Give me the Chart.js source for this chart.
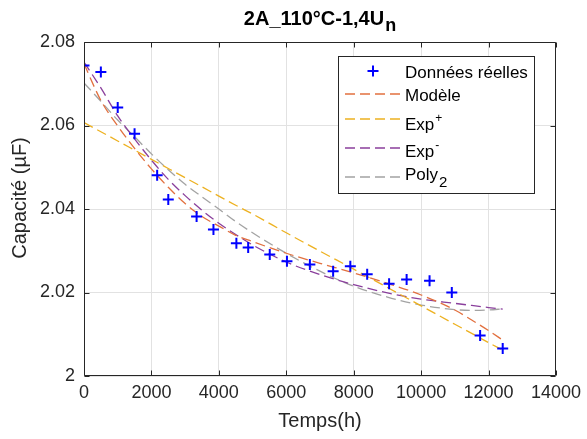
<!DOCTYPE html>
<html>
<head>
<meta charset="utf-8">
<script src="https://cdn.jsdelivr.net/npm/chart.js@4/dist/chart.umd.min.js"></script>
<style>
html,body{margin:0;padding:0;background:#ffffff;}
canvas{display:block;}
</style>
</head>
<body>
<canvas id="c" width="587" height="439"></canvas>
<script>
// ---- Text ----
const chartTitle = '2A_110°C-1,4U';
const chartTitleSub = 'n';
const xAxisTitle = 'Temps(h)';
const yAxisTitle = 'Capacité (µF)';

// ---- Ticks ----
const xTicks = [0, 2000, 4000, 6000, 8000, 10000, 12000, 14000];
const yTicks = [2, 2.02, 2.04, 2.06, 2.08];

// ---- Legend labels (base text, superscript, subscript) ----
const legendBase = ['Données réelles', 'Modèle', 'Exp', 'Exp', 'Poly'];
const legendSup  = ['', '', '+', '-', ''];
const legendSub  = ['', '', '', '', '2'];

// ---- Measured data ----
const measTimes  = [0, 500, 1000, 1500, 2170, 2500, 3340, 3840, 4520, 4870, 5510,
                    6020, 6700, 7390, 7900, 8400, 9050, 9570, 10250, 10910, 11750, 12420];
const measValues = [2.0744, 2.0728, 2.0643, 2.0580, 2.0481, 2.0423, 2.0382, 2.0351, 2.0318, 2.0308, 2.0291,
                    2.0275, 2.0267, 2.0251, 2.0263, 2.0244, 2.0221, 2.0231, 2.0228, 2.0200, 2.0097, 2.0066];

// ---- Fitted curves (sampled) ----
const fitTimes = [0, 500, 1000, 1500, 2000, 2500, 3000, 3500, 4000, 4500, 5000,
                  6000, 7000, 8000, 9000, 10000, 11000, 11500, 12000, 12420];
const modele   = [2.0748, 2.0660, 2.0599, 2.0545, 2.0496, 2.0452, 2.0413, 2.0382, 2.0359, 2.0337, 2.0322,
                  2.0294, 2.0270, 2.0247, 2.0222, 2.0194, 2.0158, 2.0134, 2.0109, 2.0086];
const expPlus  = [2.0607, 2.0585, 2.0563, 2.0541, 2.0519, 2.0497, 2.0475, 2.0453, 2.0431, 2.0409, 2.0388,
                  2.0343, 2.0299, 2.0256, 2.0212, 2.0168, 2.0124, 2.0102, 2.0080, 2.0062];
const expMinus = [2.0752, 2.0690, 2.0623, 2.0568, 2.0517, 2.0471, 2.0432, 2.0397, 2.0366, 2.0339, 2.0314,
                  2.0273, 2.0243, 2.0219, 2.0199, 2.0184, 2.0174, 2.0169, 2.0164, 2.0160];
const poly2    = [2.0702, 2.0658, 2.0613, 2.0573, 2.0532, 2.0494, 2.0459, 2.0429, 2.0400, 2.0370, 2.0343,
                  2.0294, 2.0251, 2.0215, 2.0189, 2.0170, 2.0159, 2.0157, 2.0158, 2.0161];

const FONT = "'Liberation Sans', Arial, Helvetica, sans-serif";
const TXT = '#262626';

const colMeas = '#0000ff';
const colModele = '#E2703F';
const colExpP = '#EDB120';
const colExpM = '#8A3F9C';
const colPoly = '#A3A3A3';
const DASH = [10, 5];

function pts(xs, ys) { return xs.map((x, i) => ({x: x, y: ys[i]})); }

Chart.defaults.font.family = FONT;
Chart.defaults.color = TXT;

const lineDs = (label, values, color, order) => ({
  label: label,
  data: pts(fitTimes, values),
  borderColor: color,
  backgroundColor: color,
  borderWidth: 1.3,
  borderDash: DASH,
  pointRadius: 0,
  fill: false,
  cubicInterpolationMode: 'monotone',
  order: order
});

const datasets = [
  {
    label: 'Données réelles',
    data: pts(measTimes, measValues),
    showLine: false,
    pointStyle: 'cross',
    pointRadius: 5.5,
    pointBorderWidth: 2,
    borderColor: colMeas,
    backgroundColor: colMeas,
    order: 0
  },
  lineDs('Modèle', modele, colModele, 1),
  lineDs('Exp+', expPlus, colExpP, 2),
  lineDs('Exp-', expMinus, colExpM, 3),
  lineDs('Poly2', poly2, colPoly, 4)
];

const decorPlugin = {
  id: 'decor',
  beforeDraw(chart) {
    const ctx = chart.ctx;
    ctx.save();
    ctx.fillStyle = '#ffffff';
    ctx.fillRect(0, 0, chart.width, chart.height);
    ctx.restore();
  },
  afterDraw(chart) {
    const ctx = chart.ctx;
    const ca = chart.chartArea;
    const xs = chart.scales.x, ys = chart.scales.y;
    const L = Math.round(ca.left) + 0.5, R = Math.round(ca.right) - 0.5;
    const T = Math.round(ca.top) + 0.5, B = Math.round(ca.bottom) - 0.5;
    ctx.save();
    // box
    ctx.strokeStyle = TXT;
    ctx.lineWidth = 1;
    ctx.beginPath();
    ctx.rect(L, T, R - L, B - T);
    ctx.stroke();
    // inner ticks
    const tl = 5;
    ctx.beginPath();
    xTicks.forEach(v => {
      const px = Math.round(xs.getPixelForValue(v)) + 0.5;
      ctx.moveTo(px, B); ctx.lineTo(px, B - tl);
      ctx.moveTo(px, T); ctx.lineTo(px, T + tl);
    });
    yTicks.forEach(v => {
      const py = Math.round(ys.getPixelForValue(v)) + 0.5;
      ctx.moveTo(L, py); ctx.lineTo(L + tl, py);
      ctx.moveTo(R, py); ctx.lineTo(R - tl, py);
    });
    ctx.stroke();

    // title
    ctx.fillStyle = '#000000';
    ctx.textBaseline = 'alphabetic';
    ctx.textAlign = 'left';
    ctx.font = 'bold 20px ' + FONT;
    const w1 = ctx.measureText(chartTitle).width;
    ctx.font = 'bold 18px ' + FONT;
    const w2 = ctx.measureText(chartTitleSub).width;
    const cx = (ca.left + ca.right) / 2;
    const tx = cx - (w1 + w2 + 1) / 2;
    ctx.font = 'bold 20px ' + FONT;
    ctx.fillText(chartTitle, tx, 25);
    ctx.font = 'bold 18px ' + FONT;
    ctx.fillText(chartTitleSub, tx + w1 + 1, 31);

    // y axis title
    ctx.save();
    ctx.translate(20, 198);
    ctx.rotate(-Math.PI / 2);
    ctx.font = '20px ' + FONT;
    ctx.fillStyle = TXT;
    ctx.textAlign = 'center';
    ctx.textBaseline = 'middle';
    ctx.fillText(yAxisTitle, 0, 0);
    ctx.restore();

    // legend
    const bx = 338.5, by = 56.5, bw = 196, bh = 137;
    ctx.fillStyle = '#ffffff';
    ctx.fillRect(bx, by, bw, bh);
    ctx.strokeStyle = TXT;
    ctx.lineWidth = 1;
    ctx.strokeRect(bx, by, bw, bh);
    const rowY = [71, 94, 119, 148, 177];
    const baseY = [78, 101, 130, 157, 180];
    const lx0 = 345, lx1 = 400, textX = 405;
    chart.data.datasets.forEach((ds, i) => {
      const y = rowY[i];
      if (i === 0) {
        ctx.strokeStyle = ds.borderColor;
        ctx.lineWidth = 2;
        ctx.beginPath();
        ctx.moveTo(373 - 5.5, y); ctx.lineTo(373 + 5.5, y);
        ctx.moveTo(373, y - 5.5); ctx.lineTo(373, y + 5.5);
        ctx.stroke();
      } else {
        ctx.strokeStyle = ds.borderColor;
        ctx.lineWidth = 1.3;
        ctx.setLineDash(DASH);
        ctx.beginPath();
        ctx.moveTo(lx0, y); ctx.lineTo(lx1, y);
        ctx.stroke();
        ctx.setLineDash([]);
      }
      ctx.fillStyle = '#000000';
      ctx.textAlign = 'left';
      ctx.textBaseline = 'alphabetic';
      ctx.font = '17px ' + FONT;
      ctx.fillText(legendBase[i], textX, baseY[i]);
      const wb = ctx.measureText(legendBase[i]).width;
      if (legendSup[i]) {
        ctx.font = '12px ' + FONT;
        ctx.fillText(legendSup[i], textX + wb + 1, baseY[i] - 8);
      }
      if (legendSub[i]) {
        ctx.font = '15px ' + FONT;
        ctx.fillText(legendSub[i], textX + wb + 1, baseY[i] + 7);
      }
    });
    ctx.restore();
  }
};

new Chart(document.getElementById('c'), {
  type: 'line',
  data: { datasets: datasets },
  options: {
    responsive: false,
    animation: false,
    events: [],
    layout: { padding: { top: 42, right: 31, left: 0, bottom: 0 } },
    plugins: {
      legend: { display: false },
      title: { display: false },
      tooltip: { enabled: false }
    },
    scales: {
      x: {
        type: 'linear',
        position: 'bottom',
        min: 0,
        max: 14000,
        afterBuildTicks: s => { s.ticks = xTicks.map(v => ({value: v})); },
        afterFit: s => { s.height = 63; },
        ticks: {
          font: { size: 18 },
          color: TXT,
          padding: 6,
          maxRotation: 0,
          autoSkip: false,
          callback: v => String(v)
        },
        grid: { color: '#e2e2e2', lineWidth: 1, drawTicks: false },
        border: { display: false },
        title: {
          display: true,
          text: xAxisTitle,
          font: { size: 20 },
          color: TXT,
          padding: { top: 0, bottom: 6 }
        }
      },
      y: {
        type: 'linear',
        min: 2,
        max: 2.08,
        afterBuildTicks: s => { s.ticks = yTicks.map(v => ({value: v})); },
        afterFit: s => { s.width = 84; },
        ticks: {
          font: { size: 18 },
          color: TXT,
          padding: 9,
          autoSkip: false,
          callback: v => String(Number(v.toFixed(2)))
        },
        grid: { color: '#e2e2e2', lineWidth: 1, drawTicks: false },
        border: { display: false }
      }
    }
  },
  plugins: [decorPlugin]
});
</script>
</body>
</html>
